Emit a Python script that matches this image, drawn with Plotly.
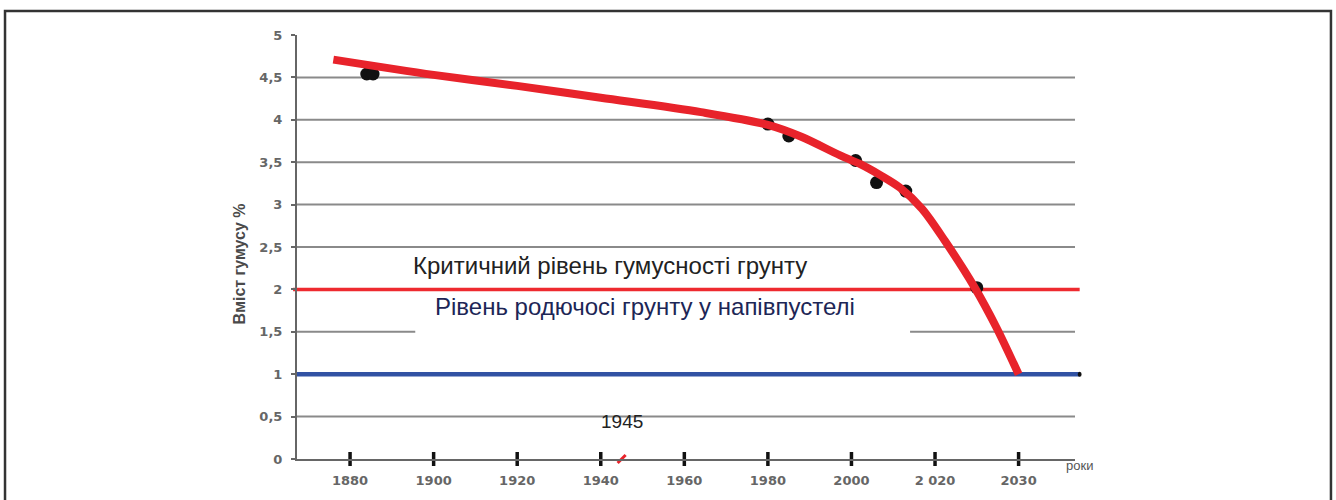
import plotly.graph_objects as go

# ---------------- data ----------------
tick_years = [1880, 1900, 1920, 1940, 1960, 1980, 2000, 2020, 2030]
tick_labels = ["1880", "1900", "1920", "1940", "1960", "1980", "2000", "2 020", "2030"]

y_ticks = [0, 0.5, 1, 1.5, 2, 2.5, 3, 3.5, 4, 4.5, 5]
y_labels = ["0", "0,5", "1", "1,5", "2", "2,5", "3", "3,5", "4", "4,5", "5"]

# observed humus content (black dots)
obs_years = [1884, 1885.5, 1980, 1985, 2001, 2006, 2013, 2025]
obs_humus = [4.54, 4.54, 3.95, 3.81, 3.52, 3.26, 3.16, 2.02]

# trend / forecast curve (red)
trend_years = [1876, 1900, 1920, 1940, 1964, 1980, 1988, 1997.3, 2002, 2006.8,
               2011.6, 2016.9, 2021.2, 2024.7, 2027.3, 2030]
trend_humus = [4.71, 4.53, 4.40, 4.26, 4.09, 3.94, 3.80, 3.58, 3.48, 3.35,
               3.20, 2.95, 2.57, 2.03, 1.56, 1.0]

critical_level = 2.0      # critical humus level
semidesert_level = 1.0    # semidesert fertility level
grid_levels = [0.5, 2.5, 3, 3.5, 4, 4.5]
marked_year = 1945

# In the original drawing the last decade (2020-2030) occupies the width of two decades.
def xpos(year):
    return year if year <= 2020 else 2020 + (year - 2020) * 2.0

X_RANGE = [1867.3, 2053.5]

fig = go.Figure()

# observed points
fig.add_trace(go.Scatter(
    x=[xpos(v) for v in obs_years], y=obs_humus, mode="markers",
    marker=dict(color="#111111", size=13), showlegend=False, hoverinfo="skip"))

# trend curve
fig.add_trace(go.Scatter(
    x=[xpos(v) for v in trend_years], y=trend_humus, mode="lines",
    line=dict(color="#e8232b", width=8, shape="spline", smoothing=0.9),
    showlegend=False, hoverinfo="skip"))

# x-axis tick marks crossing the axis line
fig.add_trace(go.Scatter(
    x=[xpos(v) for v in tick_years], y=[0] * len(tick_years), mode="markers",
    marker=dict(symbol="line-ns", size=10, line=dict(color="#111111", width=3.5)),
    cliponaxis=False, showlegend=False, hoverinfo="skip"))

# red mark for 1945
fig.add_trace(go.Scatter(
    x=[xpos(marked_year)], y=[0], mode="markers",
    marker=dict(symbol="line-ne", size=8, line=dict(color="#e8232b", width=3)),
    cliponaxis=False, showlegend=False, hoverinfo="skip"))

shapes = []
for lv in grid_levels:
    shapes.append(dict(type="line", xref="paper", yref="y", x0=0, x1=1, y0=lv, y1=lv,
                       line=dict(color="#8a8a8a", width=2), layer="below"))
# partial grid line at 1.5 (interrupted by the text)
shapes.append(dict(type="line", xref="paper", yref="y", x0=0, x1=0.152, y0=1.5, y1=1.5,
                   line=dict(color="#8a8a8a", width=2), layer="below"))
shapes.append(dict(type="line", xref="paper", yref="y", x0=0.788, x1=1, y0=1.5, y1=1.5,
                   line=dict(color="#8a8a8a", width=2), layer="below"))
# critical level (red) and semidesert level (blue)
shapes.append(dict(type="line", xref="paper", yref="y", x0=-0.005, x1=1.006,
                   y0=critical_level, y1=critical_level,
                   line=dict(color="#ee2a2f", width=3.5), layer="below"))
shapes.append(dict(type="line", xref="paper", yref="y", x0=0, x1=1.006,
                   y0=semidesert_level, y1=semidesert_level,
                   line=dict(color="#3152a3", width=4.5), layer="below"))
shapes.append(dict(type="circle", xref="paper", yref="y", x0=1.0035, x1=1.0085,
                   y0=semidesert_level - 0.03, y1=semidesert_level + 0.03,
                   fillcolor="#111111", line=dict(width=0)))
# outer frame
shapes.append(dict(type="rect", xref="paper", yref="paper",
                   x0=-0.3753, x1=1.3290, y0=-0.12, y1=1.0566,
                   line=dict(color="#333333", width=2.5), fillcolor="rgba(0,0,0,0)"))

annotations = [
    dict(text="Критичний рівень гумусності грунту", xref="paper", yref="paper",
         x=0.4023, y=0.4575, showarrow=False,
         font=dict(family="Liberation Sans, Arial", size=24, color="#222222")),
    dict(text="Рівень родючосі грунту у напівпустелі", xref="paper", yref="paper",
         x=0.4473, y=0.323, showarrow=False,
         font=dict(family="Liberation Sans, Arial", size=24, color="#1d2656")),
    dict(text="1945", xref="x", yref="paper", x=xpos(marked_year), y=0.059, showarrow=False,
         font=dict(family="Liberation Sans, Arial", size=19, color="#222222")),
    dict(text="роки", xref="paper", yref="paper", x=0.986, y=-0.038, xanchor="left",
         showarrow=False, font=dict(family="Liberation Sans", size=13, color="#555555")),
    dict(text="<b>Вміст гумусу %</b>", xref="paper", yref="paper", x=-0.0862, y=0.46,
         textangle=-90, showarrow=False,
         font=dict(family="Liberation Sans", size=16, color="#4a4a4a")),
]

fig.update_layout(
    width=1336, height=500,
    margin=dict(l=297, r=261, t=35, b=41, autoexpand=False),
    paper_bgcolor="white", plot_bgcolor="white",
    shapes=shapes, annotations=annotations,
    xaxis=dict(range=X_RANGE, showgrid=False, zeroline=False,
               showline=True, linecolor="#666666", linewidth=2,
               tickmode="array", tickvals=[xpos(v) for v in tick_years], ticktext=tick_labels,
               ticks="", ticklabelstandoff=8,
               tickfont=dict(family="DejaVu Sans", size=13, color="#666666", weight="bold")),
    yaxis=dict(range=[0, 5], showgrid=False, zeroline=False,
               showline=True, linecolor="#666666", linewidth=2,
               tickmode="array", tickvals=y_ticks, ticktext=y_labels,
               ticks="outside", ticklen=4, tickwidth=2, tickcolor="#666666",
               ticklabelstandoff=6,
               tickfont=dict(family="DejaVu Sans", size=13, color="#666666", weight="bold")),
)

# remove the browser's default 8 px page margin so the 1336x500 figure fills the window
fig.write_html("out.html", config={"displayModeBar": False},
               post_script="document.body.style.margin='0';document.body.style.overflow='hidden';")
